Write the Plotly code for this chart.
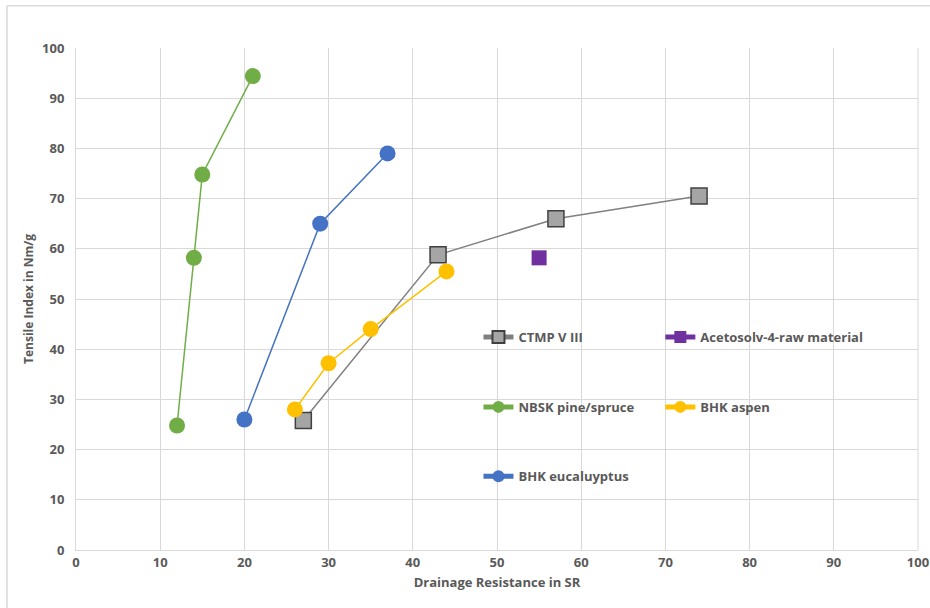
import plotly.graph_objects as go

# Data
ctmp_x = [27, 43, 57, 74]
ctmp_y = [25.8, 58.8, 66.0, 70.5]
aceto_x = [55]
aceto_y = [58.2]
nbsk_x = [12, 14, 15, 21]
nbsk_y = [24.8, 58.2, 74.8, 94.4]
aspen_x = [26, 30, 35, 44]
aspen_y = [28.0, 37.2, 44.0, 55.5]
euca_x = [20, 29, 37]
euca_y = [26.0, 65.0, 79.0]
tick_vals = [0, 10, 20, 30, 40, 50, 60, 70, 80, 90, 100]

FONT = "Open Sans, sans-serif"
TXT = "#595959"

fig = go.Figure()
fig.add_trace(go.Scatter(x=ctmp_x, y=ctmp_y, mode="lines+markers", name="CTMP V III",
                         line=dict(color="#808080", width=1.5),
                         marker=dict(symbol="square", size=16, color="#A5A5A5",
                                     line=dict(color="#404040", width=1.5)),
                         legend="legend", showlegend=True))
fig.add_trace(go.Scatter(x=aceto_x, y=aceto_y, mode="lines+markers", name="Acetosolv-4-raw material",
                         line=dict(color="#7030A0", width=1.5),
                         marker=dict(symbol="square", size=15, color="#7030A0"),
                         legend="legend2", showlegend=True))
fig.add_trace(go.Scatter(x=nbsk_x, y=nbsk_y, mode="lines+markers", name="NBSK pine/spruce",
                         line=dict(color="#70AD47", width=1.5),
                         marker=dict(symbol="circle", size=16, color="#70AD47"),
                         legend="legend3", showlegend=True))
fig.add_trace(go.Scatter(x=aspen_x, y=aspen_y, mode="lines+markers", name="BHK aspen",
                         line=dict(color="#FFC000", width=1.5),
                         marker=dict(symbol="circle", size=16, color="#FFC000"),
                         legend="legend4", showlegend=True))
fig.add_trace(go.Scatter(x=euca_x, y=euca_y, mode="lines+markers", name="BHK eucaluyptus",
                         line=dict(color="#4472C4", width=1.5),
                         marker=dict(symbol="circle", size=16, color="#4472C4"),
                         legend="legend5", showlegend=True))

leg_common = dict(orientation="h", xanchor="left", yanchor="middle", bgcolor="rgba(0,0,0,0)",
                  font=dict(family=FONT, size=13, color=TXT, weight="bold"), itemsizing="constant")

fig.update_layout(
    width=930, height=608,
    showlegend=True,
    margin=dict(l=76, r=12, t=48, b=58, autoexpand=False),
    paper_bgcolor="white", plot_bgcolor="white",
    font=dict(family=FONT, color=TXT),
    legend=dict(x=0.478, y=0.424, visible=True, **leg_common),
    legend2=dict(x=0.694, y=0.424, **leg_common),
    legend3=dict(x=0.478, y=0.285, **leg_common),
    legend4=dict(x=0.694, y=0.285, **leg_common),
    legend5=dict(x=0.478, y=0.147, **leg_common),
    xaxis=dict(range=[0, 100], tickvals=tick_vals, showgrid=True, gridcolor="#D9D9D9", gridwidth=1,
               zeroline=False, showline=True, linecolor="#D9D9D9", mirror=False,
               tickfont=dict(family=FONT, size=13, color=TXT, weight="bold"), ticks="",
               title=dict(text="Drainage Resistance in SR", standoff=8,
                          font=dict(family=FONT, size=13, color=TXT, weight="bold"))),
    yaxis=dict(range=[0, 100], tickvals=tick_vals, showgrid=True, gridcolor="#D9D9D9", gridwidth=1,
               zeroline=False, showline=True, linecolor="#D9D9D9",
               tickfont=dict(family=FONT, size=13, color=TXT, weight="bold"), ticks="",
               ticklabelstandoff=8,
               title=dict(text="Tensile Index in Nm/g", standoff=5,
                          font=dict(family=FONT, size=12, color=TXT, weight="bold"))),
    shapes=[
        dict(type="line", xref="paper", yref="paper", x0=-0.082, x1=1.02, y0=1.084, y1=1.084,
             line=dict(color="#D9D9D9", width=1.5)),
        dict(type="line", xref="paper", yref="paper", x0=-0.082, x1=-0.082, y0=-0.12, y1=1.084,
             line=dict(color="#D9D9D9", width=1.5)),
        dict(type="line", xref="paper", yref="paper", x0=1, x1=1, y0=0, y1=1,
             line=dict(color="#D9D9D9", width=1)),
    ],
)

fig.write_html("out.html")
